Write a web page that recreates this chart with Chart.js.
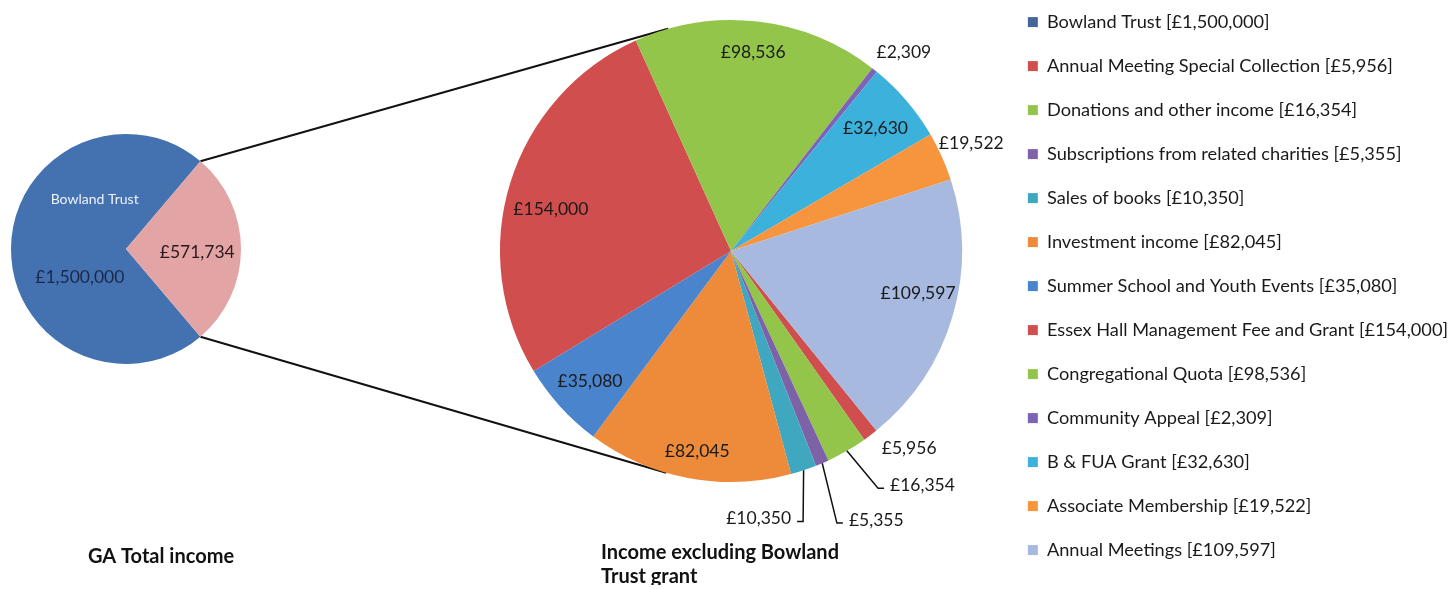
<!DOCTYPE html>
<html>
<head>
<meta charset="utf-8">
<script src="https://cdn.jsdelivr.net/npm/chart.js@4.4.1/dist/chart.umd.min.js"></script>
<style>
  html, body { margin: 0; padding: 0; width: 1451px; height: 590px; overflow: hidden; background: #ffffff; }
  #mainWrap { position: absolute; left: 0; top: -83px; width: 1458px; height: 668px; }
  #leftWrap { position: absolute; left: 0; top: 0; width: 252px; height: 498px; }
</style>
</head>
<body>
<div id="mainWrap"><canvas id="mainChart"></canvas></div>
<div id="leftWrap"><canvas id="leftChart"></canvas></div>
<script>
// ---------------- DATA ----------------
const totalCategories = ['Bowland Trust', 'Other income'];
const totalValues = [1500000, 571734];

const detailCategories = [
  'Annual Meeting Special Collection',
  'Donations and other income',
  'Subscriptions from related charities',
  'Sales of books',
  'Investment income',
  'Summer School and Youth Events',
  'Essex Hall Management Fee and Grant',
  'Congregational Quota',
  'Community Appeal',
  'B & FUA Grant',
  'Associate Membership',
  'Annual Meetings'
];
const detailValues = [5956, 16354, 5355, 10350, 82045, 35080, 154000, 98536, 2309, 32630, 19522, 109597];

const leftTitle = 'GA Total income';
const rightTitle = ['Income excluding Bowland', 'Trust grant'];

// ---------------- STYLES ----------------
const totalColors = ['#4471AF', '#E2A4A4'];
const detailColors = ['#D04F4E', '#93C54B', '#7E62A8', '#3FA7C0', '#EE8B3A', '#4A84CC',
                      '#D04F4E', '#93C54B', '#7E62B5', '#3CB1DC', '#F7953E', '#A8B9E0'];

// label placement per slice (style only): f = radius factor, da = angle offset (deg)
const detailLabelPlacement = [
  {mode: 'out', f: 1.15, da: -5},
  {mode: 'leader', f: 1.208, da: -1.7, side: 1},
  {mode: 'leader', f: 1.264, da: 2.0, side: 1},
  {mode: 'leader', f: 1.212, da: 3.4, side: -1},
  {mode: 'in', f: 0.88, da: -1.2},
  {mode: 'in', f: 0.83, da: -0.3},
  {mode: 'in', f: 0.80, da: -4.3},
  {mode: 'in', f: 0.866, da: -0.3},
  {mode: 'out', f: 1.14, da: 2.6},
  {mode: 'in', f: 0.82, da: 0.3},
  {mode: 'out', f: 1.14, da: 0},
  {mode: 'in', f: 0.83, da: -3.8}
];

const FONT = 'Lato';
const LABEL_SIZE = 17.5;
const LEGEND_SIZE = 18.2;
const LEGEND_PAD = 44 - 18.2;
const LEGEND_BOX = 10;
const TEXT_COLOR = '#1a1a1a';
const MAIN_TOP = -83;         // page offset of main canvas
const MAIN_W = 1458;
const RIGHT_CX = 731;
const RIGHT_R = 231;
const LEFT_R = 115;
const RIGHT_ROTATION = 141;

Chart.defaults.font.family = FONT;

function fmt(v) {
  return '£' + String(v).replace(/\B(?=(\d{3})+(?!\d))/g, ',');
}

// legend items
const legendNames = [totalCategories[0]].concat(detailCategories);
const legendValues = [totalValues[0]].concat(detailValues);
const legendColors = ['#44679A'].concat(detailColors);
const legendTexts = legendNames.map((n, i) => n + ' [' + fmt(legendValues[i]) + ']');

// measure the longest legend text to place the pie centre
const mctx = document.createElement('canvas').getContext('2d');
mctx.font = LEGEND_SIZE + 'px ' + FONT;
let maxTextW = 0;
legendTexts.forEach(t => { maxTextW = Math.max(maxTextW, mctx.measureText(t).width); });
const legendW = LEGEND_PAD + LEGEND_BOX + LEGEND_SIZE / 2 + maxTextW + 10;
const legendLeft = MAIN_W - legendW;
const padLeft = 2 * RIGHT_CX - legendLeft;

// ---------------- LEFT PIE ----------------
const pinkDeg = 360 * totalValues[1] / (totalValues[0] + totalValues[1]);
const leftRotation = pinkDeg / 2 + 90;

const leftLabelPlugin = {
  id: 'leftLabels',
  afterDatasetsDraw(chart) {
    const ctx = chart.ctx;
    const meta = chart.getDatasetMeta(0);
    const a0 = meta.data[0];
    const cx = a0.x, cy = a0.y, r = a0.outerRadius;
    const pol = (deg, f) => ({x: cx + r * f * Math.cos(deg * Math.PI / 180), y: cy + r * f * Math.sin(deg * Math.PI / 180)});
    ctx.save();
    ctx.textAlign = 'center';
    ctx.textBaseline = 'middle';
    let p = pol(237.7, 0.51);
    ctx.font = '14px ' + FONT;
    ctx.fillStyle = '#EEF2FA';
    ctx.fillText(totalCategories[0], p.x, p.y);
    p = pol(148.7, 0.47);
    ctx.font = LABEL_SIZE + 'px ' + FONT;
    ctx.fillStyle = '#1B2A4A';
    ctx.fillText(fmt(totalValues[0]), p.x, p.y);
    const a1 = meta.data[1];
    const mid = (a1.startAngle + a1.endAngle) / 2 * 180 / Math.PI;
    p = pol(mid + 2.4, 0.62);
    ctx.fillStyle = '#2a1a1a';
    ctx.fillText(fmt(totalValues[1]), p.x, p.y);
    ctx.restore();
  }
};

const leftChart = new Chart(document.getElementById('leftChart'), {
  type: 'pie',
  data: {
    labels: totalCategories,
    datasets: [{
      data: totalValues,
      backgroundColor: totalColors,
      borderWidth: 0,
      rotation: leftRotation,
      radius: LEFT_R
    }]
  },
  options: {
    responsive: true,
    maintainAspectRatio: false,
    animation: false,
    layout: {padding: 0},
    plugins: {legend: {display: false}, tooltip: {enabled: false}, title: {display: false}}
  },
  plugins: [leftLabelPlugin]
});

// ---------------- RIGHT PIE + LEGEND ----------------
const overlayPlugin = {
  id: 'overlay',
  beforeDatasetsDraw(chart) {
    const ctx = chart.ctx;
    const lm = leftChart.getDatasetMeta(0).data[1];
    const off = -MAIN_TOP;
    const lcx = lm.x, lcy = lm.y + off, lr = lm.outerRadius;
    const arc = chart.getDatasetMeta(0).data[0];
    const C = {x: arc.x, y: arc.y}, R = arc.outerRadius;
    const tangent = (p, upper) => {
      const dx = p.x - C.x, dy = p.y - C.y;
      const d = Math.sqrt(dx * dx + dy * dy);
      const th = Math.atan2(dy, dx);
      const al = Math.acos(R / d);
      const t1 = {x: C.x + R * Math.cos(th + al), y: C.y + R * Math.sin(th + al)};
      const t2 = {x: C.x + R * Math.cos(th - al), y: C.y + R * Math.sin(th - al)};
      if (upper) return t1.y < t2.y ? t1 : t2;
      return t1.y > t2.y ? t1 : t2;
    };
    const p1 = {x: lcx + lr * Math.cos(lm.startAngle), y: lcy + lr * Math.sin(lm.startAngle)};
    const p2 = {x: lcx + lr * Math.cos(lm.endAngle), y: lcy + lr * Math.sin(lm.endAngle)};
    const q1 = tangent(p1, true), q2 = tangent(p2, false);
    ctx.save();
    ctx.strokeStyle = '#111111';
    ctx.lineWidth = 2;
    ctx.beginPath();
    ctx.moveTo(p1.x, p1.y); ctx.lineTo(q1.x, q1.y);
    ctx.moveTo(p2.x, p2.y); ctx.lineTo(q2.x, q2.y);
    ctx.stroke();
    ctx.restore();
  },
  afterDatasetsDraw(chart) {
    const ctx = chart.ctx;
    const meta = chart.getDatasetMeta(0);
    ctx.save();
    ctx.font = LABEL_SIZE + 'px ' + FONT;
    ctx.fillStyle = TEXT_COLOR;
    ctx.strokeStyle = '#111111';
    ctx.textBaseline = 'middle';
    meta.data.forEach((arc, i) => {
      const pl = detailLabelPlacement[i];
      const cx = arc.x, cy = arc.y, r = arc.outerRadius;
      const mid = (arc.startAngle + arc.endAngle) / 2;
      const ang = mid + pl.da * Math.PI / 180;
      const txt = fmt(detailValues[i]);
      if (pl.mode === 'leader') {
        const e = {x: cx + r * Math.cos(mid), y: cy + r * Math.sin(mid)};
        const k = {x: cx + r * pl.f * Math.cos(ang), y: cy + r * pl.f * Math.sin(ang)};
        ctx.lineWidth = 1.5;
        ctx.beginPath();
        ctx.moveTo(e.x, e.y);
        ctx.lineTo(k.x, k.y);
        ctx.lineTo(k.x + pl.side * 6, k.y);
        ctx.stroke();
        ctx.textAlign = pl.side > 0 ? 'left' : 'right';
        ctx.fillText(txt, k.x + pl.side * 12, k.y - 3);
      } else {
        const p = {x: cx + r * pl.f * Math.cos(ang), y: cy + r * pl.f * Math.sin(ang)};
        ctx.textAlign = 'center';
        ctx.fillText(txt, p.x, p.y);
      }
    });
    const off = -MAIN_TOP;
    ctx.font = 'bold 20px ' + FONT;
    ctx.fillStyle = '#111111';
    ctx.textAlign = 'center';
    ctx.fillText(leftTitle, 161, 557 + off);
    ctx.textAlign = 'left';
    ctx.fillText(rightTitle[0], 601, 553 + off);
    ctx.fillText(rightTitle[1], 601, 577 + off);
    ctx.restore();
  }
};

const mainChart = new Chart(document.getElementById('mainChart'), {
  type: 'pie',
  data: {
    labels: detailCategories,
    datasets: [{
      data: detailValues,
      backgroundColor: detailColors,
      borderWidth: 0,
      rotation: RIGHT_ROTATION,
      radius: RIGHT_R
    }]
  },
  options: {
    responsive: true,
    maintainAspectRatio: false,
    animation: false,
    layout: {padding: {left: padLeft, right: 0, top: 0, bottom: 0}},
    plugins: {
      tooltip: {enabled: false},
      title: {display: false},
      legend: {
        display: true,
        position: 'right',
        align: 'end',
        onClick: null,
        labels: {
          boxWidth: LEGEND_BOX,
          boxHeight: LEGEND_BOX,
          padding: LEGEND_PAD,
          color: TEXT_COLOR,
          font: {family: FONT, size: LEGEND_SIZE},
          generateLabels: () => legendTexts.map((t, i) => ({
            text: t,
            fillStyle: legendColors[i],
            strokeStyle: legendColors[i],
            lineWidth: 0,
            hidden: false,
            index: i,
            fontColor: TEXT_COLOR
          }))
        }
      }
    }
  },
  plugins: [overlayPlugin]
});
</script>
</body>
</html>
